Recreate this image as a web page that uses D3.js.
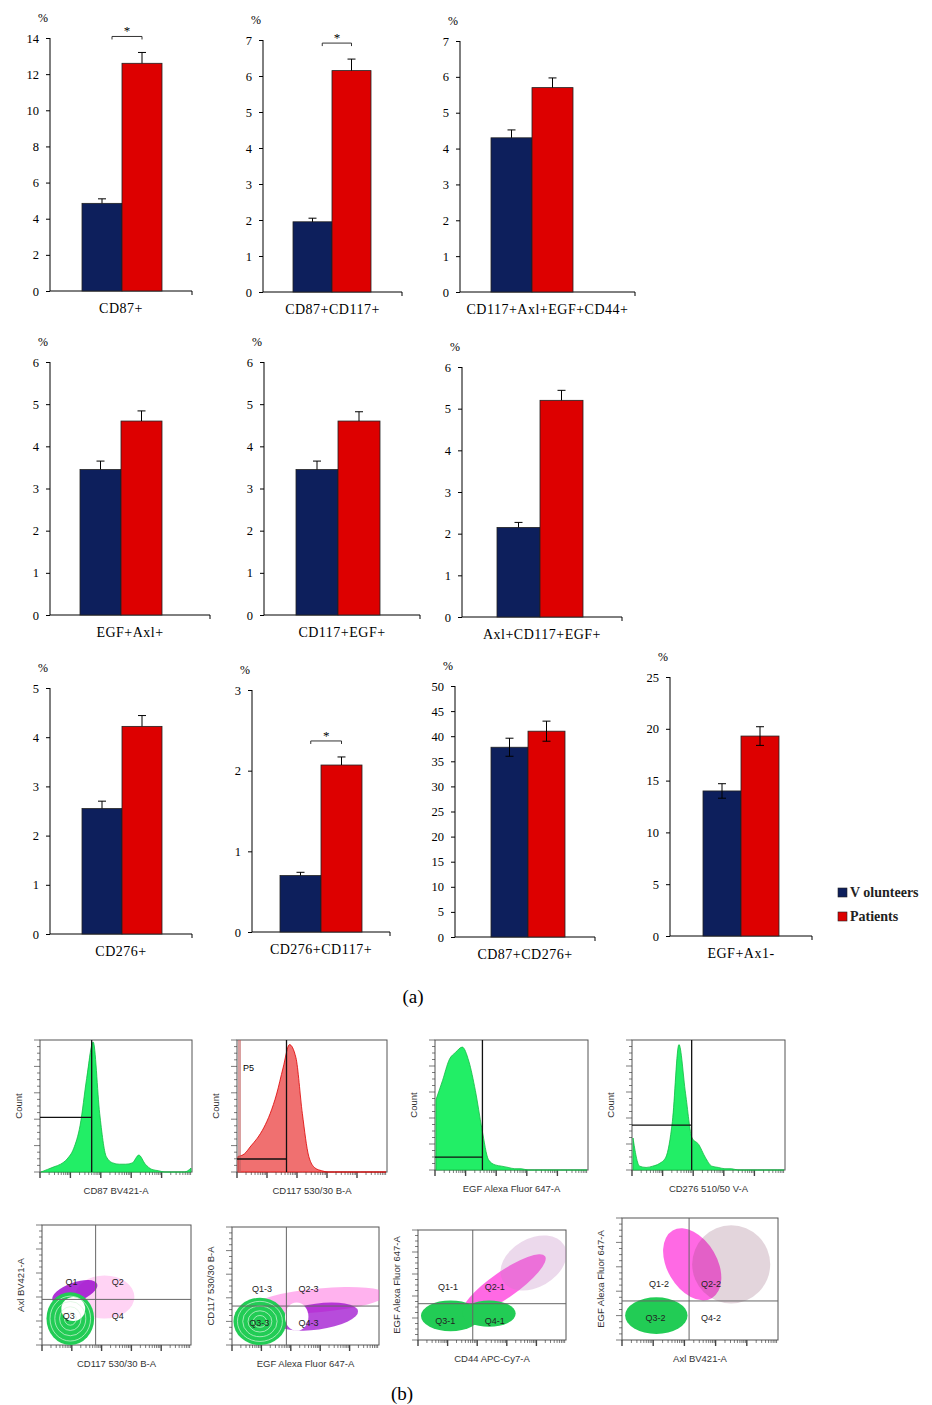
<!DOCTYPE html>
<html>
<head>
<meta charset="utf-8">
<script src="https://cdn.jsdelivr.net/npm/d3@7"></script>
<style>
  body { margin: 0; background: #fff; }
  svg { display: block; }
  .bar-tick text { font-family: "Liberation Serif", serif; font-size: 12.5px; }
  .flow text { font-family: "Liberation Sans", Arial, sans-serif; }
</style>
</head>
<body>
<svg id="fig" width="932" height="1405"></svg>
<script>
// ---- data: panel (a) ----
const barLabels = ['CD87+', 'CD87+CD117+', 'CD117+Axl+EGF+CD44+',
  'EGF+Axl+', 'CD117+EGF+', 'Axl+CD117+EGF+',
  'CD276+', 'CD276+CD117+', 'CD87+CD276+', 'EGF+Ax1-'];
const volunteers = [4.85, 1.95, 4.3, 3.45, 3.45, 2.15, 2.55, 0.7, 37.8, 14.0];
const patients = [12.6, 6.15, 5.7, 4.6, 4.6, 5.2, 4.22, 2.07, 41.0, 19.3];
const volErr = [0.25, 0.1, 0.22, 0.2, 0.2, 0.12, 0.15, 0.04, 1.8, 0.7];
const patErr = [0.6, 0.32, 0.27, 0.24, 0.22, 0.24, 0.22, 0.1, 2.0, 0.9];
const yMax = [14, 7, 7, 6, 6, 6, 5, 3, 50, 25];
const yStep = [2, 1, 1, 1, 1, 1, 1, 1, 5, 5];
const significant = [true, true, false, false, false, false, false, true, false, false];
const twoSidedErr = [false, false, false, false, false, false, false, false, true, true];
const seriesNames = ['V olunteers', 'Patients'];
const seriesColors = ['#0d1f5c', '#dd0000'];

// ---- data: panel (b) histograms (normalized channel bins) ----
const histCD87 = [0, 0.02, 0.04, 0.06, 0.1, 0.18, 0.36, 0.72, 1.0, 0.45, 0.12, 0.07, 0.06, 0.06, 0.07, 0.13, 0.06, 0.02, 0.01, 0, 0, 0, 0, 0.03];
const histCD117 = [0.12, 0.14, 0.2, 0.26, 0.34, 0.45, 0.6, 0.8, 0.98, 0.88, 0.45, 0.12, 0.03, 0.01, 0, 0, 0, 0, 0, 0, 0, 0, 0, 0];
const histEGF = [0.55, 0.7, 0.86, 0.92, 0.96, 0.85, 0.62, 0.32, 0.08, 0.04, 0.03, 0.02, 0.01, 0.01, 0, 0, 0, 0, 0, 0, 0, 0, 0, 0];
const histCD276 = [0.25, 0.03, 0.02, 0.03, 0.05, 0.1, 0.38, 0.98, 0.6, 0.25, 0.2, 0.1, 0.03, 0.02, 0.01, 0.01, 0, 0, 0, 0, 0, 0, 0, 0];
const histXLabels = ['CD87 BV421-A', 'CD117 530/30 B-A', 'EGF Alexa Fluor 647-A', 'CD276 510/50 V-A'];
const histGateX = [0.34, 0.33, 0.31, 0.39];
const histGateY = [0.42, 0.1, 0.1, 0.35];

// ---- data: panel (b) dot plots ----
const dotXLabels = ['CD117 530/30 B-A', 'EGF Alexa Fluor 647-A', 'CD44 APC-Cy7-A', 'Axl BV421-A'];
const dotYLabels = ['Axl BV421-A', 'CD117 530/30 B-A', 'EGF Alexa Fluor 647-A', 'EGF Alexa Fluor 647-A'];
const quadX = [0.36, 0.37, 0.37, 0.43];
const quadY = [0.38, 0.33, 0.33, 0.32];
const quadNames = [['Q1', 'Q2', 'Q3', 'Q4'], ['Q1-3', 'Q2-3', 'Q3-3', 'Q4-3'],
  ['Q1-1', 'Q2-1', 'Q3-1', 'Q4-1'], ['Q1-2', 'Q2-2', 'Q3-2', 'Q4-2']];
// blobs: [cx, cy, rx, ry, rotation, colour, opacity]
const dotBlobs = [
  [[0.42, 0.4, 0.2, 0.18, 0, '#ff80e0', 0.35], [0.22, 0.44, 0.16, 0.08, -20, '#9900cc', 0.8], [0.19, 0.22, 0.16, 0.22, 0, '#22cc55', 1], [0.21, 0.3, 0.08, 0.1, 0, '#ffffff', 1]],
  [[0.6, 0.38, 0.45, 0.1, -5, '#ff66dd', 0.5], [0.58, 0.24, 0.28, 0.11, -8, '#9900cc', 0.7], [0.19, 0.2, 0.18, 0.2, 0, '#22cc55', 1], [0.44, 0.24, 0.08, 0.12, 0, '#ffffff', 1]],
  [[0.58, 0.5, 0.34, 0.12, -35, '#ff44dd', 0.8], [0.78, 0.7, 0.24, 0.22, -30, '#c080c0', 0.3], [0.22, 0.22, 0.2, 0.14, 0, '#22cc55', 1], [0.48, 0.24, 0.18, 0.12, 0, '#22cc55', 1]],
  [[0.45, 0.62, 0.16, 0.32, -30, '#ff44dd', 0.8], [0.7, 0.62, 0.25, 0.32, 0, '#804060', 0.22], [0.22, 0.2, 0.2, 0.15, 0, '#22cc55', 1]]
];

const svg = d3.select('#fig');

// ---------- panel (a): bar charts ----------
const barPanels = [
  {ax: 50, top: 38, bottom: 291, xEnd: 192, b0: 82, bw: 40},
  {ax: 263, top: 40, bottom: 292, xEnd: 402, b0: 293, bw: 39},
  {ax: 460, top: 41, bottom: 292, xEnd: 635, b0: 491, bw: 41},
  {ax: 50, top: 362, bottom: 615, xEnd: 210, b0: 80, bw: 41},
  {ax: 264, top: 362, bottom: 615, xEnd: 420, b0: 296, bw: 42},
  {ax: 462, top: 367, bottom: 617, xEnd: 622, b0: 497, bw: 43},
  {ax: 50, top: 688, bottom: 934, xEnd: 192, b0: 82, bw: 40},
  {ax: 252, top: 690, bottom: 932, xEnd: 390, b0: 280, bw: 41},
  {ax: 455, top: 686, bottom: 937, xEnd: 595, b0: 491, bw: 37},
  {ax: 670, top: 677, bottom: 936, xEnd: 812, b0: 703, bw: 38}
];

barPanels.forEach((p, i) => {
  const g = svg.append('g');
  const y = d3.scaleLinear().domain([0, yMax[i]]).range([p.bottom, p.top]);
  const x = d3.scaleBand().domain(seriesNames).range([p.b0, p.b0 + 2 * p.bw]);
  const vals = [volunteers[i], patients[i]];
  const errs = [volErr[i], patErr[i]];

  g.append('g').attr('class', 'bar-tick')
    .attr('transform', `translate(${p.ax},0)`)
    .call(d3.axisLeft(y).tickValues(d3.range(0, yMax[i] + 0.001, yStep[i]))
      .tickFormat(d3.format('d')).tickSize(4).tickPadding(7))
    .call(a => a.attr('font-family', null).attr('font-size', null))
    .call(a => a.select('.domain').attr('d', `M-0,${p.top}V${p.bottom}`));
  g.append('line').attr('x1', p.ax).attr('x2', p.xEnd)
    .attr('y1', p.bottom).attr('y2', p.bottom).attr('stroke', '#000');
  g.append('line').attr('x1', p.xEnd).attr('x2', p.xEnd)
    .attr('y1', p.bottom).attr('y2', p.bottom + 4).attr('stroke', '#000');
  g.append('text').attr('x', p.ax - 12).attr('y', p.top - 16)
    .attr('font-family', 'Liberation Serif, serif').attr('font-size', 12).text('%');

  seriesNames.forEach((s, k) => {
    const bx = x(s), bw = x.bandwidth();
    g.append('rect').attr('x', bx).attr('y', y(vals[k]))
      .attr('width', bw).attr('height', p.bottom - y(vals[k]))
      .attr('fill', seriesColors[k]).attr('stroke', '#222').attr('stroke-width', 0.8);
    const cx = bx + bw / 2;
    const lo = twoSidedErr[i] ? vals[k] - errs[k] : vals[k];
    g.append('line').attr('x1', cx).attr('x2', cx)
      .attr('y1', y(lo)).attr('y2', y(vals[k] + errs[k])).attr('stroke', '#000');
    g.append('line').attr('x1', cx - 4).attr('x2', cx + 4)
      .attr('y1', y(vals[k] + errs[k])).attr('y2', y(vals[k] + errs[k])).attr('stroke', '#000');
    if (twoSidedErr[i]) {
      g.append('line').attr('x1', cx - 4).attr('x2', cx + 4)
        .attr('y1', y(lo)).attr('y2', y(lo)).attr('stroke', '#000');
    }
  });

  if (significant[i]) {
    const by = y(patients[i] + patErr[i]) - 16;
    const x1 = x(seriesNames[0]) + x.bandwidth() * 0.75, x2 = x(seriesNames[1]) + x.bandwidth() * 0.5;
    g.append('path').attr('d', `M${x1},${by + 3}V${by}H${x2}V${by + 3}`)
      .attr('fill', 'none').attr('stroke', '#333');
    g.append('text').attr('x', (x1 + x2) / 2).attr('y', by - 1).attr('text-anchor', 'middle')
      .attr('font-family', 'Liberation Serif, serif').attr('font-size', 13).text('*');
  }

  g.append('text').attr('x', (p.ax + p.xEnd) / 2).attr('y', p.bottom + 22)
    .attr('text-anchor', 'middle').attr('font-family', 'Liberation Serif, serif')
    .attr('font-size', 14).attr('letter-spacing', 0.5).text(barLabels[i]);
});

// legend
seriesNames.forEach((s, k) => {
  svg.append('rect').attr('x', 838).attr('y', 888 + k * 24).attr('width', 9).attr('height', 9)
    .attr('fill', seriesColors[k]).attr('stroke', '#222').attr('stroke-width', 0.6);
  svg.append('text').attr('x', 850).attr('y', 897 + k * 24)
    .attr('font-family', 'Liberation Serif, serif').attr('font-size', 14).attr('font-weight', 'bold')
    .attr('fill', '#222').text(s);
});

svg.append('text').attr('x', 413).attr('y', 1003).attr('text-anchor', 'middle')
  .attr('font-family', 'Liberation Serif, serif').attr('font-size', 19).text('(a)');
svg.append('text').attr('x', 402).attr('y', 1400).attr('text-anchor', 'middle')
  .attr('font-family', 'Liberation Serif, serif').attr('font-size', 19).text('(b)');

// ---------- panel (b): flow plots ----------
function flowFrame(g, x0, y0, w, h, xl, yl) {
  g.append('rect').attr('x', x0).attr('y', y0).attr('width', w).attr('height', h)
    .attr('fill', '#fff').attr('stroke', '#555').attr('stroke-width', 1);
  // log-style ticks
  const decades = 5;
  for (let d = 0; d < decades; d++) {
    for (let m = 1; m < 10; m++) {
      const fx = x0 + (d + Math.log10(m)) / decades * w;
      g.append('line').attr('x1', fx).attr('x2', fx).attr('y1', y0 + h)
        .attr('y2', y0 + h + (m === 1 ? 6 : 3)).attr('stroke', '#444').attr('stroke-width', m === 1 ? 1.4 : 0.7);
    }
  }
  for (let t = 0; t <= 20; t++) {
    const fy = y0 + h - t / 20 * h;
    g.append('line').attr('x1', x0).attr('x2', x0 - (t % 4 === 0 ? 6 : 3))
      .attr('y1', fy).attr('y2', fy).attr('stroke', '#444').attr('stroke-width', 0.7);
  }
  g.append('text').attr('x', x0 + w / 2).attr('y', y0 + h + 22).attr('text-anchor', 'middle')
    .attr('font-size', 9.5).attr('fill', '#333').text(xl);
  g.append('text').attr('transform', `translate(${x0 - 18},${y0 + h / 2}) rotate(-90)`)
    .attr('text-anchor', 'middle').attr('font-size', 9.5).attr('fill', '#333').text(yl);
}

const histPanels = [
  {x0: 40, y0: 1040, w: 152, h: 132, fill: '#22ee66', stroke: '#11bb44', data: histCD87},
  {x0: 237, y0: 1040, w: 150, h: 132, fill: '#f07070', stroke: '#dd0000', data: histCD117},
  {x0: 435, y0: 1040, w: 153, h: 130, fill: '#22ee66', stroke: '#11bb44', data: histEGF},
  {x0: 632, y0: 1040, w: 153, h: 130, fill: '#22ee66', stroke: '#11bb44', data: histCD276}
];

histPanels.forEach((p, i) => {
  const g = svg.append('g').attr('class', 'flow');
  flowFrame(g, p.x0, p.y0, p.w, p.h, histXLabels[i], 'Count');
  const x = d3.scaleLinear().domain([0, p.data.length - 1]).range([p.x0 + 1, p.x0 + p.w - 1]);
  const y = d3.scaleLinear().domain([0, 1]).range([p.y0 + p.h, p.y0 + 2]);
  g.append('path').datum(p.data)
    .attr('d', d3.area().x((d, j) => x(j)).y0(p.y0 + p.h).y1(d => y(d)).curve(d3.curveMonotoneX))
    .attr('fill', p.fill).attr('stroke', p.stroke).attr('stroke-width', 0.8);
  if (i === 1) {
    g.append('rect').attr('x', p.x0 + 1).attr('y', p.y0).attr('width', 3).attr('height', p.h)
      .attr('fill', '#c06060').attr('opacity', 0.6);
    g.append('text').attr('x', p.x0 + 6).attr('y', p.y0 + 31).attr('font-size', 9).text('P5');
  }
  const gx = p.x0 + histGateX[i] * p.w, gy = y(histGateY[i]);
  g.append('line').attr('x1', gx).attr('x2', gx).attr('y1', p.y0).attr('y2', p.y0 + p.h)
    .attr('stroke', '#111').attr('stroke-width', 1.3);
  g.append('line').attr('x1', p.x0).attr('x2', gx).attr('y1', gy).attr('y2', gy)
    .attr('stroke', '#111').attr('stroke-width', 1.3);
});

const dotPanels = [
  {x0: 42, y0: 1225, w: 149, h: 120},
  {x0: 232, y0: 1227, w: 147, h: 118},
  {x0: 418, y0: 1230, w: 148, h: 110},
  {x0: 622, y0: 1218, w: 156, h: 122}
];

dotPanels.forEach((p, i) => {
  const g = svg.append('g').attr('class', 'flow');
  flowFrame(g, p.x0, p.y0, p.w, p.h, dotXLabels[i], dotYLabels[i]);
  const x = d3.scaleLinear().domain([0, 1]).range([p.x0, p.x0 + p.w]);
  const y = d3.scaleLinear().domain([0, 1]).range([p.y0 + p.h, p.y0]);
  const clipId = 'clip' + i;
  g.append('clipPath').attr('id', clipId).append('rect')
    .attr('x', p.x0).attr('y', p.y0).attr('width', p.w).attr('height', p.h);
  const body = g.append('g').attr('clip-path', `url(#${clipId})`);
  dotBlobs[i].forEach(b => {
    body.append('ellipse').attr('cx', x(b[0])).attr('cy', y(b[1]))
      .attr('rx', b[2] * p.w).attr('ry', b[3] * p.h)
      .attr('transform', `rotate(${b[4]},${x(b[0])},${y(b[1])})`)
      .attr('fill', b[5]).attr('opacity', b[6]);
  });
  if (i < 2) {
    const green = dotBlobs[i][2];
    [0.85, 0.65, 0.45, 0.25].forEach(f => {
      body.append('ellipse').attr('cx', x(green[0])).attr('cy', y(green[1]))
        .attr('rx', green[2] * p.w * f).attr('ry', green[3] * p.h * f)
        .attr('fill', 'none').attr('stroke', '#d8f5dd').attr('stroke-width', 0.7);
    });
  }
  const qx = x(quadX[i]), qy = y(quadY[i]);
  g.append('line').attr('x1', qx).attr('x2', qx).attr('y1', p.y0).attr('y2', p.y0 + p.h)
    .attr('stroke', '#666').attr('stroke-width', 1);
  g.append('line').attr('x1', p.x0).attr('x2', p.x0 + p.w).attr('y1', qy).attr('y2', qy)
    .attr('stroke', '#666').attr('stroke-width', 1);
  const q = quadNames[i];
  const lbl = (t, tx, ty) => g.append('text').attr('x', tx).attr('y', ty).attr('text-anchor', 'middle')
    .attr('font-size', 9).attr('fill', '#222').text(t);
  lbl(q[0], x(quadX[i] * 0.55), qy - 14);
  lbl(q[1], qx + 22, qy - 14);
  lbl(q[2], x(quadX[i] * 0.5), qy + 20);
  lbl(q[3], qx + 22, qy + 20);
});
</script>
</body>
</html>
